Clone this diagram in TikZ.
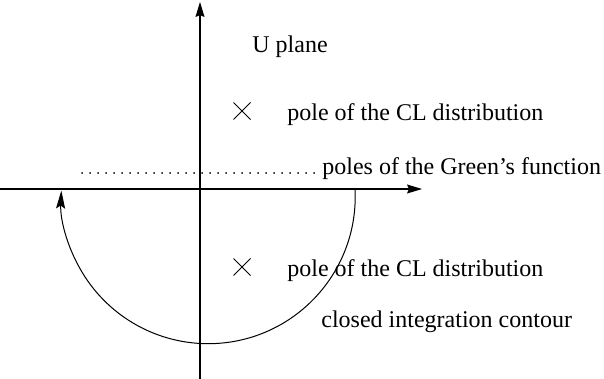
\documentclass[tikz,border=0pt]{standalone}
\usepackage{fontspec}
\setmainfont{Liberation Serif}
\usetikzlibrary{arrows.meta,calc}
\tikzset{
  axis/.style={line width=0.55pt,-{Stealth[length=7.5pt,width=4.5pt,inset=1pt]}},
  contour/.style={line width=0.5pt,-{Stealth[length=9pt,width=4.5pt,inset=1.5pt]}},
  lbl/.style={anchor=base west,inner sep=0pt,font=\fontsize{12}{14}\selectfont},
  polemark/.style={line width=0.4pt},
  dots/.style={line width=1pt,line cap=round,dash pattern=on 0pt off 4pt},
}
\begin{document}
\begin{tikzpicture}[x=0.5pt,y=-0.5pt]
\useasboundingbox (0,0) rectangle (604,379);
% axes
\draw[axis] (0,189) -- (422,189);
\draw[axis] (200,379) -- (200,2);
% closed contour
\coordinate (cstart) at (355,189);
\draw[contour] (cstart) arc[start angle=-3,end angle=182.4,radius=147];
% poles
\foreach \py/\nm in {111/pu,267/pd}{
  \coordinate (\nm) at (242,\py);
  \draw[polemark] ($(\nm)+(-8.5,-8.5)$) -- ($(\nm)+(8.5,8.5)$)
                  ($(\nm)+(-8.5,8.5)$) -- ($(\nm)+(8.5,-8.5)$);
}
\draw[dots] (82,173) -- (318,173);
% labels
\node[lbl] (plane) at (252,53) {U plane};
\node[lbl] (cl1) at (287,121) {pole of the CL distribution};
\node[lbl] (green) at (322,175) {poles of the Green’s function};
\node[lbl] (cl2) at (287,276) {pole of the CL distribution};
\node[lbl] (cont) at (321,327) {closed integration contour};
\end{tikzpicture}
\end{document}
